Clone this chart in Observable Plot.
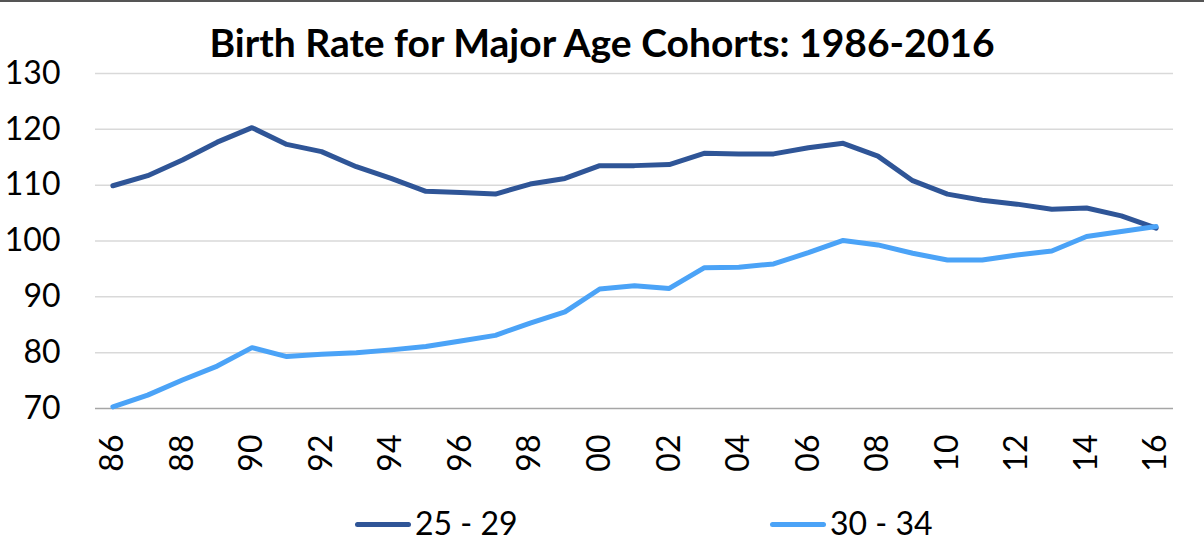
<!DOCTYPE html>
<html>
<head>
<meta charset="utf-8">
<script src="https://cdn.jsdelivr.net/npm/d3@7"></script>
<script src="https://cdn.jsdelivr.net/npm/@observablehq/plot@0.6"></script>
<style>
  html, body { margin: 0; padding: 0; background: #fff; }
  body { width: 1204px; height: 548px; position: relative; overflow: hidden; font-family: Lato, "Open Sans", sans-serif; }
  #topline { position: absolute; left: 0; top: 0; width: 1204px; height: 2px; background: #555; }
  #title { position: absolute; left: 0; top: 23px; width: 1204px; text-align: center; font-weight: 700; font-size: 39px; line-height: 39px; color: #000; }
  #chart { position: absolute; left: 0; top: 48px; }
  .leg { position: absolute; top: 507px; height: 32px; line-height: 32px; font-size: 32px; color: #000; white-space: nowrap; }
  .sw { display: inline-block; width: 56px; height: 5px; border-radius: 3px; vertical-align: middle; margin-right: 4px; position: relative; top: -2px; }
</style>
</head>
<body>
<div id="topline"></div>
<div id="chart"></div>
<div id="title">Birth Rate for Major Age Cohorts: 1986-2016</div>
<div id="legend"></div>
<script>
const years = [1986, 1987, 1988, 1989, 1990, 1991, 1992, 1993, 1994, 1995, 1996, 1997, 1998, 1999, 2000,
  2001, 2002, 2003, 2004, 2005, 2006, 2007, 2008, 2009, 2010, 2011, 2012, 2013, 2014, 2015, 2016];
const age2529 = [109.9, 111.7, 114.5, 117.7, 120.3, 117.3, 116.0, 113.3, 111.2, 108.9, 108.7, 108.4, 110.2, 111.2, 113.5,
  113.5, 113.7, 115.7, 115.6, 115.6, 116.7, 117.5, 115.2, 110.8, 108.4, 107.3, 106.6, 105.7, 105.9, 104.5, 102.3];
const age3034 = [70.3, 72.4, 75.1, 77.6, 80.9, 79.3, 79.7, 80.0, 80.5, 81.1, 82.1, 83.1, 85.3, 87.3, 91.4,
  92.0, 91.5, 95.2, 95.3, 95.9, 97.9, 100.1, 99.3, 97.8, 96.6, 96.6, 97.5, 98.2, 100.8, 101.7, 102.6];
const seriesNames = ["25 - 29", "30 - 34"];
const seriesColors = ["#2f5597", "#4ba3f7"];
const yTicks = [70, 80, 90, 100, 110, 120, 130];
const xTicks = [1986, 1988, 1990, 1992, 1994, 1996, 1998, 2000, 2002, 2004, 2006, 2008, 2010, 2012, 2014, 2016];

const data = [];
years.forEach((yr, i) => {
  data.push({year: yr, value: age2529[i], series: seriesNames[0]});
});
years.forEach((yr, i) => {
  data.push({year: yr, value: age3034[i], series: seriesNames[1]});
});

const chart = Plot.plot({
  width: 1204,
  height: 432,
  marginLeft: 95,
  marginRight: 31,
  marginTop: 25,
  marginBottom: 72,
  style: {fontFamily: "Lato, 'Open Sans', sans-serif", fontSize: "32px", color: "#000", background: "transparent"},
  x: {type: "point", domain: years, padding: 0.5, round: false},
  y: {domain: [70, 130]},
  color: {domain: seriesNames, range: seriesColors},
  marks: [
    Plot.ruleY(yTicks.filter(v => v > 70), {stroke: "#d9d9d9", strokeWidth: 1.5}),
    Plot.ruleY([70], {stroke: "#a6a6a6", strokeWidth: 1.5}),
    Plot.axisY({ticks: yTicks, tickSize: 0, tickPadding: 35, label: null, fontSize: 32}),
    Plot.axisX({ticks: xTicks, tickSize: 0, tickPadding: 26, tickRotate: -90, label: null, fontSize: 32,
      tickFormat: d => String(d % 100).padStart(2, "0")}),
    Plot.line(data, {x: "year", y: "value", z: "series", stroke: "series", strokeWidth: 5,
      strokeLinejoin: "round", strokeLinecap: "round"})
  ]
});
document.getElementById("chart").appendChild(chart);

const legend = document.getElementById("legend");
const legLeft = [355, 770];
seriesNames.forEach((name, i) => {
  const d = document.createElement("div");
  d.className = "leg";
  d.style.left = legLeft[i] + "px";
  const sw = document.createElement("span");
  sw.className = "sw";
  sw.style.background = seriesColors[i];
  d.appendChild(sw);
  d.appendChild(document.createTextNode(name));
  legend.appendChild(d);
});
</script>
</body>
</html>
